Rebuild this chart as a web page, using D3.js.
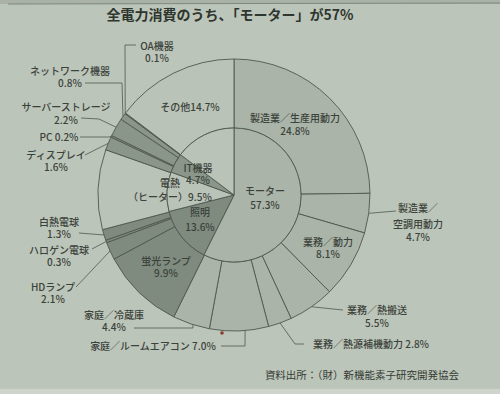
<!DOCTYPE html>
<html><head><meta charset="utf-8">
<script src="https://cdn.jsdelivr.net/npm/d3@7/dist/d3.min.js"></script>
<style>html,body{margin:0;padding:0;background:#bcc5b9;} svg{display:block;}</style>
</head><body>
<script>
// ---------- data ----------
const titleText = "全電力消費のうち、「モーター」が57%";
const sourceText = "資料出所：（財）新機能素子研究開発協会";

const innerCategories = ["モーター", "照明", "電熱", "IT機器", "その他"];
const innerValues = [57.3, 13.6, 9.5, 4.7, 14.7];

const outerCategories = [
  "製造業／生産用動力", "製造業／空調用動力", "業務／動力", "業務／熱搬送", "業務／熱源補機動力",
  "家庭／ルームエアコン", "家庭／冷蔵庫",
  "蛍光ランプ", "HDランプ", "ハロゲン電球", "白熱電球",
  "電熱",
  "ディスプレイ", "PC", "サーバーストレージ", "ネットワーク機器", "OA機器",
  "その他"
];
const outerValues = [24.8, 4.7, 8.1, 5.5, 2.8, 7.0, 4.4, 9.9, 2.1, 0.3, 1.3, 9.5, 1.6, 0.2, 2.2, 0.8, 0.1, 14.7];
const outerGroups = [
  "モーター", "モーター", "モーター", "モーター", "モーター", "モーター", "モーター",
  "照明", "照明", "照明", "照明",
  "電熱",
  "IT機器", "IT機器", "IT機器", "IT機器", "IT機器",
  "その他"
];

// ---------- layout & style ----------
const W = 500, H = 394, cx = 234, cy = 195, rIn = 67, rOut = 136;
const FONT = "'Noto Sans CJK JP','Noto Sans',sans-serif";
const TEXT = "#3b423b", LINE = "#4f584f";
const PAPER = "#bcc5b9";
const groupFill = {"モーター": "#aab4a8", "照明": "#7e8b7e", "電熱": "#bac3b7", "IT機器": "#8a968a", "その他": "#bac3b7"};

// label layout: x (center), baselines, line templates, leader points (text side)
const innerLayout = {
  "モーター": {x: 265, ys: [195, 209], lines: ["{n}", "{p}"]},
  "照明": {x: 200, ys: [216, 231], lines: ["{n}", "{p}"]},
  "電熱": {x: 170, ys: [187, 201], lines: ["{n}", "（ヒーター）{p}"]},
  "IT機器": {x: 198, ys: [172, 184], lines: ["{n}", "{p}"]},
  "その他": {x: 190, ys: [111], lines: ["{n}{p}"]}
};
const outerLayout = {
  "製造業／生産用動力": {x: 295, ys: [122, 135], lines: ["{n}", "{p}"]},
  "製造業／空調用動力": {x: 418, ys: [212, 228, 241], lines: ["製造業／", "空調用動力", "{p}"], leader: [[396, 211]]},
  "業務／動力": {x: 328, ys: [246, 258], lines: ["{n}", "{p}"]},
  "業務／熱搬送": {x: 377, ys: [314, 327], lines: ["{n}", "{p}"], leader: [[343, 310]]},
  "業務／熱源補機動力": {x: 371, ys: [348], lines: ["{n} {p}"], leader: [[304, 344], [295, 344]]},
  "家庭／ルームエアコン": {x: 153, ys: [350], lines: ["{n} {p}"], leader: [[221, 346], [245, 346]], frac: 0.4},
  "家庭／冷蔵庫": {x: 114, ys: [319, 331], lines: ["{n}", "{p}"], leader: [[134, 328], [193, 328]], frac: 0.45},
  "蛍光ランプ": {x: 166, ys: [265, 277], lines: ["{n}", "{p}"]},
  "HDランプ": {x: 53, ys: [291, 303], lines: ["{n}", "{p}"], leader: [[76, 287]]},
  "ハロゲン電球": {x: 59, ys: [254, 266], lines: ["{n}", "{p}"], leader: [[92, 249]]},
  "白熱電球": {x: 59, ys: [226, 238], lines: ["{n}", "{p}"], leader: [[79, 233]]},
  "ディスプレイ": {x: 56, ys: [159, 171], lines: ["{n}", "{p}"], leader: [[85, 155]]},
  "PC": {x: 59, ys: [141], lines: ["{n} {p}"], leader: [[80, 137], [109, 137]]},
  "サーバーストレージ": {x: 66, ys: [111, 124], lines: ["{n}", "{p}"], leader: [[81, 118], [99, 119]]},
  "ネットワーク機器": {x: 70, ys: [75, 87], lines: ["{n}", "{p}"], leader: [[85, 83], [122, 83]]},
  "OA機器": {x: 157, ys: [50, 62], lines: ["{n}", "{p}"], leader: [[136, 45], [125, 45]]}
};

// ---------- drawing ----------
const svg = d3.select("body").append("svg").attr("width", W).attr("height", H)
  .style("font-family", FONT);

svg.append("rect").attr("width", W).attr("height", H).attr("fill", PAPER);
svg.append("rect").attr("width", W).attr("height", 4).attr("fill", "#aab2a7");
svg.append("line").attr("x1", 8).attr("y1", 4).attr("x2", W).attr("y2", 3)
  .attr("stroke", "#7f887d").attr("stroke-width", 1);
svg.append("rect").attr("y", 389).attr("width", W).attr("height", 5).attr("fill", "#cfd4cc");

const g = svg.append("g").attr("transform", `translate(${cx},${cy})`);
const pie = d3.pie().sort(null).value(d => d.v);

const outerData = outerCategories.map((n, i) => ({n, v: outerValues[i], grp: outerGroups[i]}));
const innerData = innerCategories.map((n, i) => ({n, v: innerValues[i], grp: n}));
const outerArcs = pie(outerData);
const innerArcs = pie(innerData);

const arcOut = d3.arc().innerRadius(rIn).outerRadius(rOut);
const arcIn = d3.arc().innerRadius(0).outerRadius(rIn);

g.selectAll("path.outer").data(outerArcs).join("path").attr("class", "outer")
  .attr("d", arcOut).style("fill", d => groupFill[d.data.grp])
  .attr("stroke", LINE).attr("stroke-width", 0.9).attr("stroke-linejoin", "round");
g.selectAll("path.inner").data(innerArcs).join("path").attr("class", "inner")
  .attr("d", arcIn).style("fill", d => groupFill[d.data.grp])
  .attr("stroke", LINE).attr("stroke-width", 0.9).attr("stroke-linejoin", "round");

const pct = v => v.toFixed(1) + "%";
function drawLabel(L, name, value) {
  const t = svg.append("text").attr("text-anchor", "middle").attr("fill", TEXT)
    .attr("font-size", 10).attr("font-weight", 500);
  L.lines.forEach((tpl, k) => {
    t.append("tspan").attr("x", L.x).attr("y", L.ys[k])
      .text(tpl.replace("{n}", name).replace("{p}", pct(value)));
  });
}

// leader lines: from the label to a point on the slice's outer edge
outerArcs.forEach(d => {
  const L = outerLayout[d.data.n];
  if (!L || !L.leader) return;
  const f = L.frac == null ? 0.5 : L.frac;
  const a = d.startAngle + (d.endAngle - d.startAngle) * f;
  const end = [cx + rOut * Math.sin(a), cy - rOut * Math.cos(a)];
  svg.append("path").attr("d", d3.line()([...L.leader, end]))
    .attr("fill", "none").attr("stroke", LINE).attr("stroke-width", 0.8);
});

outerArcs.forEach(d => { const L = outerLayout[d.data.n]; if (L) drawLabel(L, d.data.n, d.data.v); });
innerArcs.forEach(d => { const L = innerLayout[d.data.n]; if (L) drawLabel(L, d.data.n, d.data.v); });

// title & source
svg.append("text").attr("x", 230).attr("y", 20).attr("text-anchor", "middle")
  .attr("font-size", 14).attr("font-weight", 700).attr("fill", "#2f352f").text(titleText);
svg.append("text").attr("x", 362).attr("y", 379).attr("text-anchor", "middle")
  .attr("font-size", 10.5).attr("fill", "#353b35").text(sourceText);

// small ink speck on the page
svg.append("circle").attr("cx", 222).attr("cy", 333).attr("r", 1.8).attr("fill", "#8a3b2b");
</script>
</body></html>
